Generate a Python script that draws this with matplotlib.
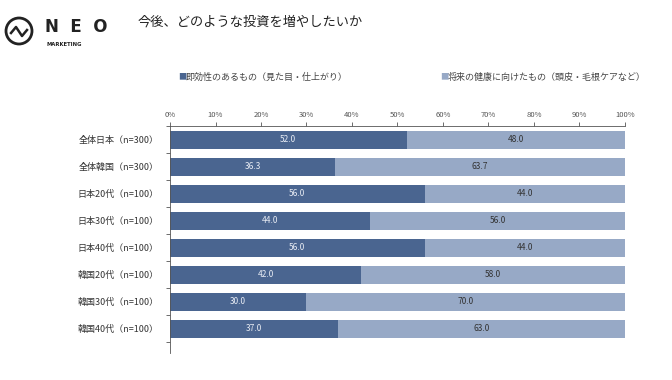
import matplotlib.pyplot as plt
import numpy as np
from matplotlib.patches import Ellipse
from matplotlib.lines import Line2D

plt.rcParams['font.family'] = ['Noto Sans CJK JP', 'DejaVu Sans']

categories = ["全体日本（n=300）", "全体韓国（n=300）", "日本20代（n=100）", "日本30代（n=100）",
              "日本40代（n=100）", "韓国20代（n=100）", "韓国30代（n=100）", "韓国40代（n=100）"]
immediate = [52.0, 36.3, 56.0, 44.0, 56.0, 42.0, 30.0, 37.0]
future = [48.0, 63.7, 44.0, 56.0, 44.0, 58.0, 70.0, 63.0]
series_names = ["即効性のあるもの（見た目・仕上がり）", "将来の健康に向けたもの（頭皮・毛根ケアなど）"]
dark = "#4a6590"
light = "#97a9c6"

fig = plt.figure(figsize=(6.72, 3.8), dpi=100)
ax = fig.add_axes([0.253, 0.071, 0.677, 0.597])

y = np.arange(len(categories))
ax.barh(y, immediate, height=0.66, color=dark)
ax.barh(y, future, left=immediate, height=0.66, color=light)

for i in range(len(categories)):
    ax.text(immediate[i] / 2, y[i], f"{immediate[i]:.1f}", ha="center", va="center",
            fontsize=6, color="#e8ecf4")
    ax.text(immediate[i] + future[i] / 2, y[i], f"{future[i]:.1f}", ha="center", va="center",
            fontsize=6, color="#333333")

ax.set_xlim(0, 100)
ax.set_ylim(7.9, -0.5)
ax.xaxis.tick_top()
ax.set_xticks(np.arange(0, 101, 10))
ax.set_xticklabels([f"{v}%" for v in range(0, 101, 10)], fontsize=5.5, color="#333333")
ax.tick_params(axis="x", length=3, width=0.6, pad=2, colors="#555555")
ax.set_yticks(y)
ax.set_yticklabels(categories, fontsize=6.5, color="#333333")
ax.set_yticks(np.arange(-0.5, 8, 1), minor=True)
ax.tick_params(axis="y", which="major", length=0, pad=8)
ax.tick_params(axis="y", which="minor", length=3, width=0.6, colors="#555555")
for s in ["right", "bottom"]:
    ax.spines[s].set_visible(False)
for s in ["top", "left"]:
    ax.spines[s].set_linewidth(0.6)
    ax.spines[s].set_color("#555555")

# legend
fig.text(178 / 672, 1 - 77 / 380, "■", color=dark, fontsize=6, va="center")
fig.text(186 / 672, 1 - 77 / 380, series_names[0], color="#444444", fontsize=6.5, va="center")
fig.text(440 / 672, 1 - 77 / 380, "■", color=light, fontsize=6, va="center")
fig.text(448 / 672, 1 - 77 / 380, series_names[1], color="#444444", fontsize=6.5, va="center")

# title
fig.text(138 / 672, 1 - 22 / 380, "今後、どのような投資を増やしたいか", fontsize=9.5, va="center", color="#222222")

# logo
W, H = 672, 380
circ = Ellipse((19 / W, 1 - 31 / H), 26 / W, 26 / H, transform=fig.transFigure, fill=False,
               lw=2, ec="#222222")
fig.patches.append(circ)
fig.add_artist(Line2D([11 / W, 16 / W, 22 / W, 27 / W],
                      [1 - 33 / H, 1 - 27 / H, 1 - 36 / H, 1 - 30 / H],
                      color="#222222", lw=1.8, transform=fig.transFigure))
fig.text(45 / W, 1 - 27 / H, "N  E  O", fontsize=12, fontweight="bold", va="center",
         color="#222222", family="DejaVu Sans")
fig.text(46 / W, 1 - 44 / H, "MARKETING", fontsize=3.8, fontweight="bold", va="center",
         color="#222222", family="DejaVu Sans")

fig.savefig("out.png", dpi=100)
